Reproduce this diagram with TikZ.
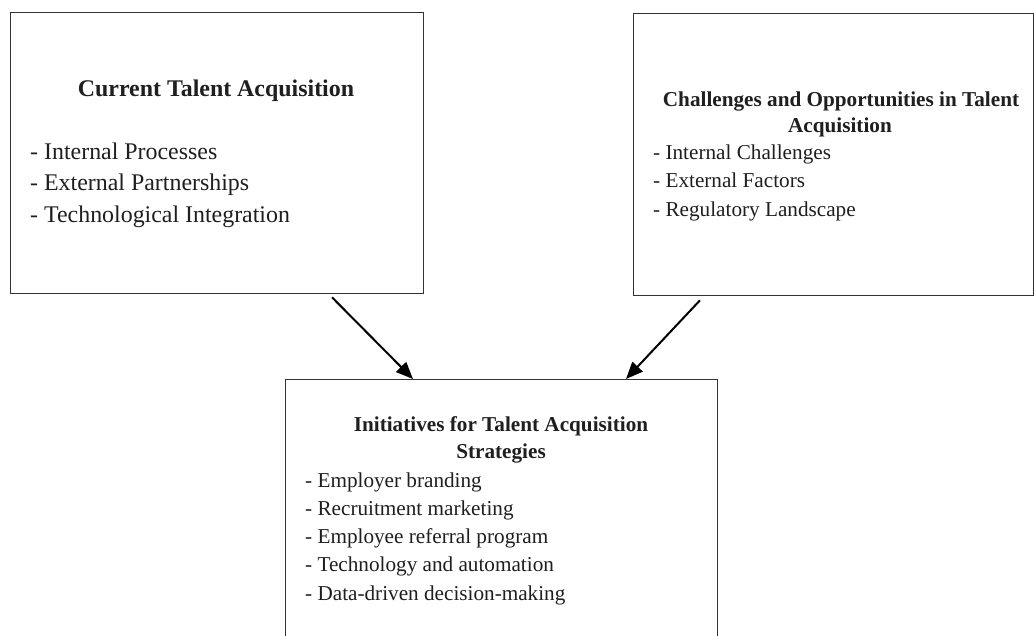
\documentclass[tikz,border=0pt]{standalone}
\usepackage{fontspec}
\setmainfont{Liberation Serif}
\usetikzlibrary{arrows.meta}
\begin{document}
\begin{tikzpicture}[x=1pt,y=-1pt,
  panel/.style={draw=black!80, line width=1.3pt, rectangle, inner sep=0pt, anchor=north west},
  bigtxt/.style={font=\fontsize{23.9}{30}\selectfont, text=black!88, inner sep=0pt},
  smalltxt/.style={font=\fontsize{21.2}{28}\selectfont, text=black!88, inner sep=0pt},
  flow/.style={line width=2pt, draw=black, -{Triangle[length=17pt,width=14pt]}}]
\clip (0,0) rectangle (1034,635);
\fill[white] (0,0) rectangle (1034,635);

% three panels
\node[panel, minimum width=413pt, minimum height=281pt] (cur) at (10,12) {};
\node[panel, minimum width=400pt, minimum height=282pt] (chal) at (633,13) {};
\node[panel, minimum width=432pt, minimum height=300pt] (ini) at (285,379) {};

% current talent acquisition
\node[bigtxt, anchor=base] (curT) at (216,96) {\bfseries Current Talent Acquisition};
\node[bigtxt, anchor=base west] (cur1) at (30,159) {- Internal Processes};
\node[bigtxt, anchor=base west] (cur2) at (30,190.7) {- External Partnerships};
\node[bigtxt, anchor=base west] (cur3) at (30,222) {- Technological Integration};

% challenges and opportunities
\node[smalltxt, anchor=base] (chalT1) at (841,106) {\bfseries Challenges and Opportunities in Talent};
\node[smalltxt, anchor=base] (chalT2) at (840,132) {\bfseries Acquisition};
\node[smalltxt, anchor=base west] (chal1) at (653,159.5) {- Internal Challenges};
\node[smalltxt, anchor=base west] (chal2) at (653,187.7) {- External Factors};
\node[smalltxt, anchor=base west] (chal3) at (653,216) {- Regulatory Landscape};

% initiatives
\node[smalltxt, anchor=base] (iniT1) at (501,431.5) {\bfseries Initiatives for Talent Acquisition};
\node[smalltxt, anchor=base] (iniT2) at (501,458) {\bfseries Strategies};
\node[smalltxt, anchor=base west] (ini1) at (305,487) {- Employer branding};
\node[smalltxt, anchor=base west] (ini2) at (305,515) {- Recruitment marketing};
\node[smalltxt, anchor=base west] (ini3) at (305,543.3) {- Employee referral program};
\node[smalltxt, anchor=base west] (ini4) at (305,571.7) {- Technology and automation};
\node[smalltxt, anchor=base west] (ini5) at (305,600) {- Data-driven decision-making};

% connectors
\draw[flow] ([shift={(322,3)}]cur.south west) -- ([xshift=128pt]ini.north west);
\draw[flow] ([shift={(67,4)}]chal.south west) -- ([xshift=341pt]ini.north west);
\end{tikzpicture}
\end{document}
